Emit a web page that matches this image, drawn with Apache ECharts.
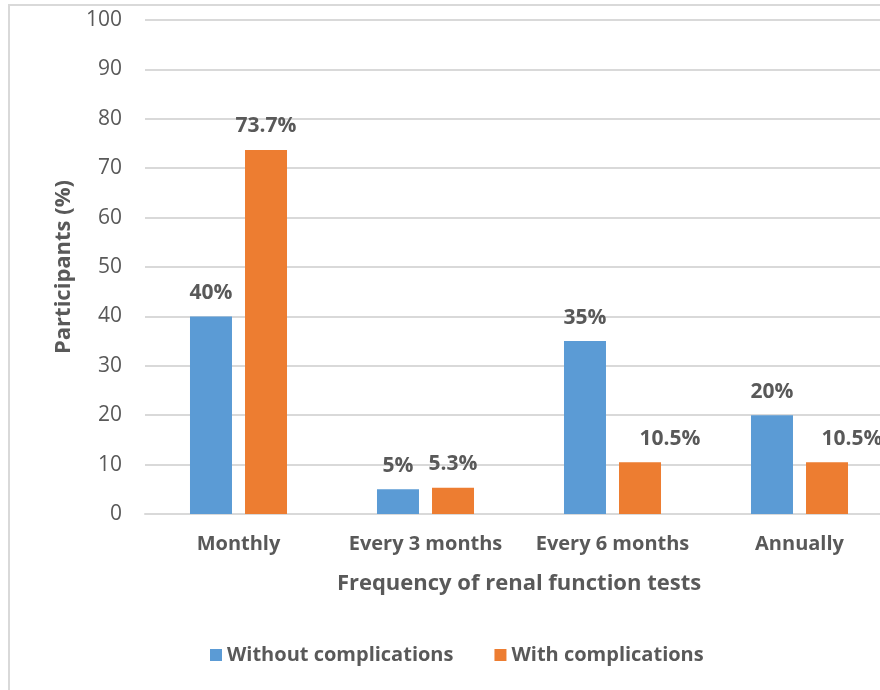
<!DOCTYPE html>
<html>
<head>
<meta charset="utf-8">
<style>
  html, body { margin: 0; padding: 0; background: #ffffff; overflow: hidden; }
  #chart { width: 900px; height: 690px; }
</style>
<script src="https://cdn.jsdelivr.net/npm/echarts@6/dist/echarts.min.js"></script>
</head>
<body>
<div id="chart"></div>
<script>
// Frequency of renal function tests, share of participants (%)
const categories = ['Monthly', 'Every 3 months', 'Every 6 months', 'Annually'];
const withoutComplications = [40, 5, 35, 20];
const withComplications = [73.7, 5.3, 10.5, 10.5];
const seriesNames = ['Without complications', 'With complications'];
const yTicks = { min: 0, max: 100, step: 10 };

const FONT = '"Open Sans", Lato, sans-serif';
const TEXT = '#595959';

// the two short orange bars carry their value labels nudged to the right
const nudgedLabels = { 'Every 6 months': [30, 0], 'Annually': [25, 0] };

const chart = echarts.init(document.getElementById('chart'), null, { renderer: 'canvas' });

const labelStyle = {
  show: true,
  position: 'top',
  distance: 13,
  fontFamily: FONT,
  fontSize: 21,
  fontWeight: 'bold',
  color: TEXT,
  formatter: p => p.value + '%'
};

const orangeData = withComplications.map((v, i) => {
  const shift = nudgedLabels[categories[i]];
  return shift ? { value: v, label: { offset: shift } } : v;
});

chart.setOption({
  animation: false,
  backgroundColor: '#ffffff',
  textStyle: { fontFamily: FONT },
  graphic: [{
    type: 'rect',
    shape: { x: 9, y: 5, width: 920, height: 720 },
    style: { fill: 'none', stroke: '#D9D9D9', lineWidth: 2 },
    silent: true
  }],
  // plot area runs past the right edge of the 880px window
  grid: { left: 145, top: 20, width: 748, height: 494, containLabel: false },
  legend: {
    data: seriesNames,
    left: 205,
    top: 640,
    itemWidth: 12,
    itemHeight: 12,
    itemGap: 41,
    icon: 'rect',
    textStyle: { fontFamily: FONT, fontSize: 20, fontWeight: 'bold', color: TEXT }
  },
  xAxis: {
    type: 'category',
    data: categories,
    name: 'Frequency of renal function tests',
    nameLocation: 'middle',
    nameGap: 59,
    nameTextStyle: { fontFamily: FONT, fontSize: 22, fontWeight: 'bold', color: TEXT },
    axisLine: { lineStyle: { color: '#D9D9D9', width: 2 } },
    axisTick: { show: false },
    axisLabel: { margin: 20, fontFamily: FONT, fontSize: 20, fontWeight: 'bold', color: TEXT, interval: 0 }
  },
  yAxis: {
    type: 'value',
    min: yTicks.min,
    max: yTicks.max,
    interval: yTicks.step,
    name: 'Participants (%)',
    nameLocation: 'middle',
    nameGap: 69,
    nameRotate: 90,
    nameTextStyle: { fontFamily: FONT, fontSize: 22, fontWeight: 'bold', color: TEXT },
    axisLine: { show: false },
    axisTick: { show: false },
    splitLine: { lineStyle: { color: '#D9D9D9', width: 2 } },
    axisLabel: { margin: 23, fontFamily: FONT, fontSize: 21, color: TEXT }
  },
  series: [
    {
      name: seriesNames[0],
      type: 'bar',
      data: withoutComplications,
      itemStyle: { color: '#5B9BD5' },
      barWidth: 42,
      barGap: '31%',
      label: labelStyle
    },
    {
      name: seriesNames[1],
      type: 'bar',
      data: orangeData,
      itemStyle: { color: '#ED7D31' },
      barWidth: 42,
      label: labelStyle
    }
  ]
});
</script>
</body>
</html>
